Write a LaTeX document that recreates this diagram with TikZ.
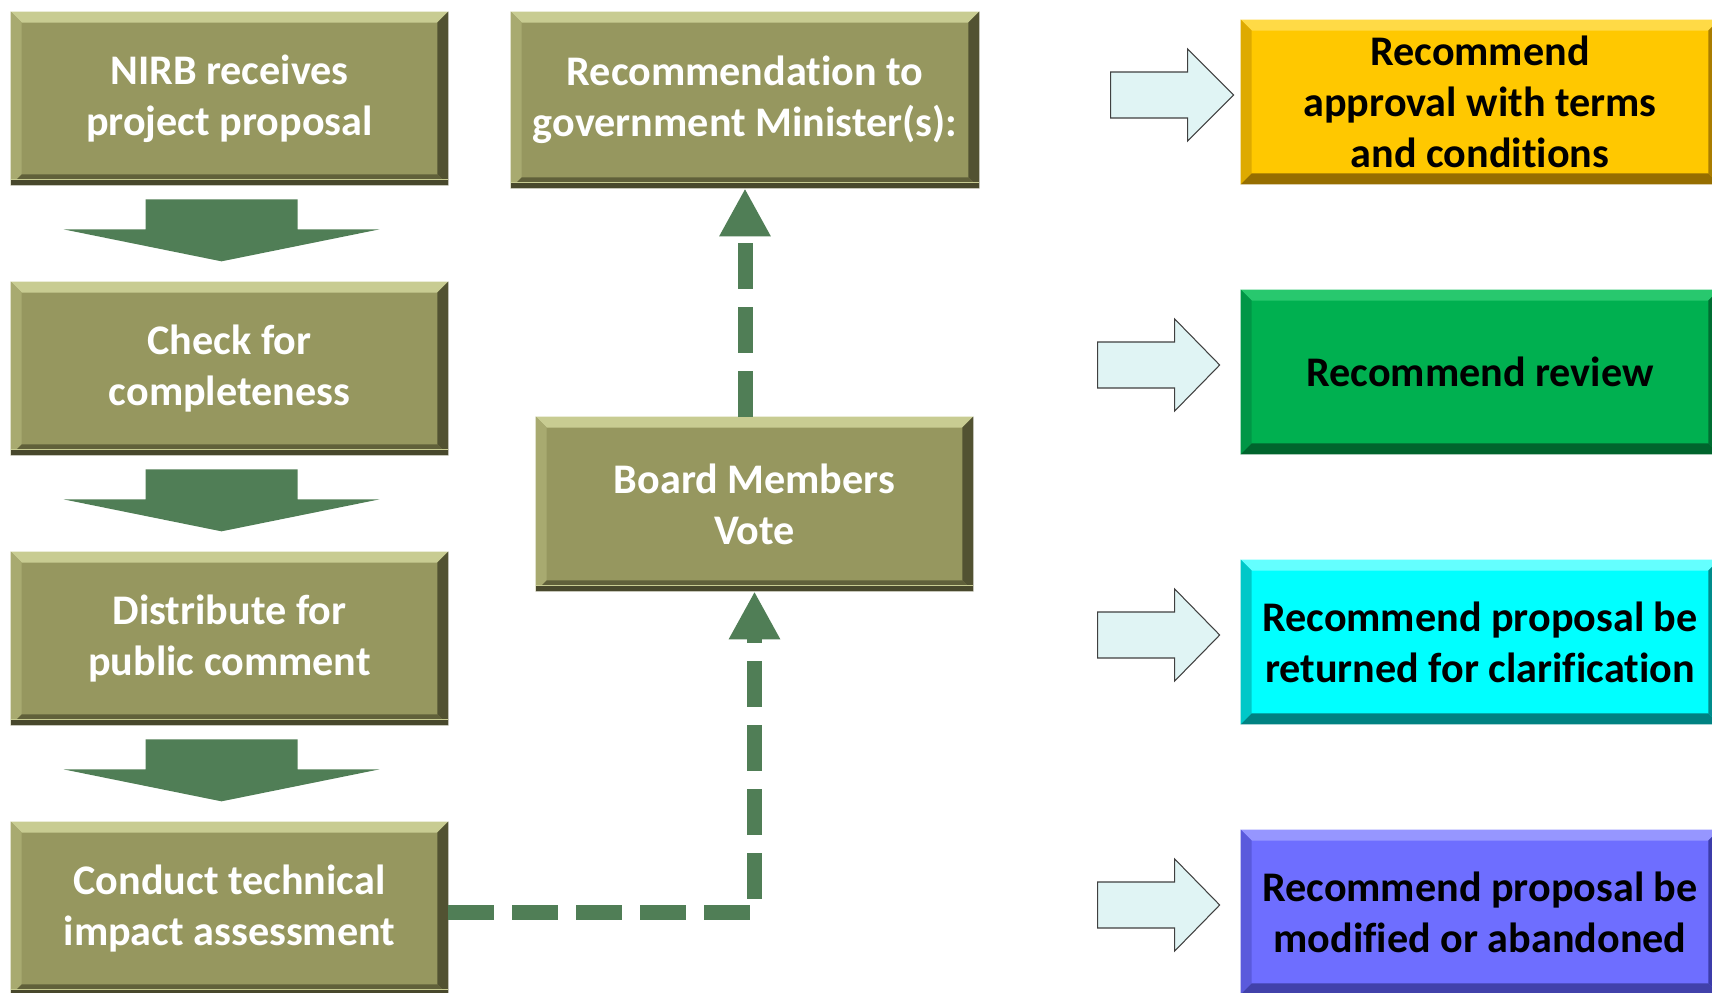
\documentclass[tikz,border=0pt]{standalone}
\usepackage{fontspec}
\setmainfont{Carlito}[Ligatures=NoCommon]
\usetikzlibrary{arrows.meta,calc}
\definecolor{olbody}{RGB}{150,151,95}
\definecolor{oltop}{RGB}{200,204,146}
\definecolor{olleft}{RGB}{168,170,112}
\definecolor{olright}{RGB}{82,82,50}
\definecolor{olbot}{RGB}{96,96,58}
\definecolor{olshadow}{RGB}{72,72,44}
\definecolor{agreen}{RGB}{80,126,86}
\definecolor{hollowfill}{RGB}{224,244,244}
\definecolor{yelbody}{RGB}{255,200,0}
\definecolor{yeltop}{RGB}{255,218,70}
\definecolor{yelleft}{RGB}{222,170,0}
\definecolor{yelright}{RGB}{170,125,0}
\definecolor{yelbot}{RGB}{150,110,0}
\definecolor{grbody}{RGB}{0,176,80}
\definecolor{grtop}{RGB}{40,200,110}
\definecolor{grleft}{RGB}{0,150,70}
\definecolor{grright}{RGB}{0,110,50}
\definecolor{grbot}{RGB}{0,100,45}
\definecolor{cybody}{RGB}{0,255,255}
\definecolor{cytop}{RGB}{100,255,255}
\definecolor{cyleft}{RGB}{0,200,200}
\definecolor{cyright}{RGB}{0,140,140}
\definecolor{cybot}{RGB}{0,130,130}
\definecolor{pubody}{RGB}{110,110,255}
\definecolor{putop}{RGB}{150,150,255}
\definecolor{puleft}{RGB}{90,90,220}
\definecolor{puright}{RGB}{60,60,170}
\definecolor{pubot}{RGB}{65,65,170}
\tikzset{
  obox/.style={rectangle, fill=olbody, text=white, inner sep=0pt, align=center,
    font=\fontsize{24}{29}\selectfont\bfseries},
  rbox/.style={rectangle, text=black, inner sep=0pt, align=center,
    minimum width=9.56cm, minimum height=3.28cm,
    font=\fontsize{24}{29}\selectfont\bfseries},
  downarrow/.style={fill=agreen},
  hollow/.style={fill=hollowfill, draw=black!75, line width=0.6pt, line join=miter},
  dconn/.style={draw=agreen, line width=0.3cm, dash pattern=on 0.92cm off 0.36cm,
    -{Triangle[length=0.96cm,width=0.96cm]}}
}
\newcommand{\bevelbox}[5]{%
  \fill[#2] (#1.north west) -- (#1.north east) -- ([shift={(-0.22cm,-0.22cm)}]#1.north east) -- ([shift={(0.22cm,-0.22cm)}]#1.north west) -- cycle;
  \fill[#3] (#1.north west) -- ([shift={(0.22cm,-0.22cm)}]#1.north west) -- ([shift={(0.22cm,0.22cm)}]#1.south west) -- (#1.south west) -- cycle;
  \fill[#4] (#1.north east) -- ([shift={(-0.22cm,-0.22cm)}]#1.north east) -- ([shift={(-0.22cm,0.22cm)}]#1.south east) -- (#1.south east) -- cycle;
  \fill[#5] (#1.south west) -- ([shift={(0.22cm,0.22cm)}]#1.south west) -- ([shift={(-0.22cm,0.22cm)}]#1.south east) -- (#1.south east) -- cycle;
}
\newcommand{\olshade}[1]{%
  \bevelbox{#1}{oltop}{olleft}{olright}{olbot}
  \fill[olshadow] (#1.south west) rectangle ([yshift=0.12cm]#1.south east);
  \draw[oltop, line width=0.6pt] ([yshift=0.12cm]#1.south west) -- ([yshift=0.12cm]#1.south east);
}
\newcommand{\downarr}[1]{%
  \fill[downarrow] ($(#1.south)+(-84,14)$) -- ($(#1.south)+(68,14)$) -- ($(#1.south)+(68,44)$) -- ($(#1.south)+(150,44)$) -- ($(#1.south)+(-8,76)$) -- ($(#1.south)+(-166,44)$) -- ($(#1.south)+(-84,44)$) -- cycle;
}
\newcommand{\hollowarr}[4]{% node, start, base, tip
  \draw[hollow] ($(#1.west)+(#2,-30)$) -- ($(#1.west)+(#3,-30)$) -- ($(#1.west)+(#3,-53)$) -- ($(#1.west)+(#4,-7)$) -- ($(#1.west)+(#3,39)$) -- ($(#1.west)+(#3,16)$) -- ($(#1.west)+(#2,16)$) -- cycle;
}
\begin{document}
\begin{tikzpicture}[x=0.02cm,y=-0.02cm]
\clip (0,0) rectangle (1712,992);
\fill[white] (0,0) rectangle (1712,992);
% left column
\node[obox, minimum width=8.74cm, minimum height=3.46cm] (n1) at (229.5,98.5) {NIRB receives\\project proposal};
\node[obox, minimum width=8.74cm, minimum height=3.46cm] (n2) at (229.5,368.5) {Check for\\completeness};
\node[obox, minimum width=8.74cm, minimum height=3.46cm] (n3) at (229.5,638.5) {Distribute for\\public comment};
\node[obox, minimum width=8.74cm, minimum height=3.46cm] (n4) at (229.5,908.5) {Conduct technical\\impact assessment};
% middle column
\node[obox, minimum width=9.36cm, minimum height=3.52cm] (rec) at (745,100) {Recommendation to\\government Minister(s):};
\node[obox, minimum width=8.74cm, minimum height=3.48cm] (board) at (754.5,504) {Board Members\\Vote};
% right column
\node[rbox, fill=yelbody] (ra) at (1480,102) {Recommend\\approval with terms\\and conditions};
\node[rbox, fill=grbody] (rb) at (1480,372) {Recommend review};
\node[rbox, fill=cybody] (rc) at (1480,642) {Recommend proposal be\\returned for clarification};
\node[rbox, fill=pubody] (rd) at (1480,912) {Recommend proposal be\\modified or abandoned};
% bevels
\foreach \n in {n1,n2,n3,n4,rec,board}{\olshade{\n}}
\bevelbox{ra}{yeltop}{yelleft}{yelright}{yelbot}
\bevelbox{rb}{grtop}{grleft}{grright}{grbot}
\bevelbox{rc}{cytop}{cyleft}{cyright}{cybot}
\bevelbox{rd}{putop}{puleft}{puright}{pubot}
% down block arrows
\downarr{n1}
\downarr{n2}
\downarr{n3}
% hollow arrows
\hollowarr{ra}{-130}{-53}{-7}
\hollowarr{rb}{-143}{-66}{-21}
\hollowarr{rc}{-143}{-66}{-21}
\hollowarr{rd}{-143}{-66}{-21}
% dashed connectors
\draw[dconn] ([yshift=-0.08cm]n4.east) -| (board.south);
\draw[dconn] (board.north -| rec.south) -- (rec.south);
\end{tikzpicture}
\end{document}
